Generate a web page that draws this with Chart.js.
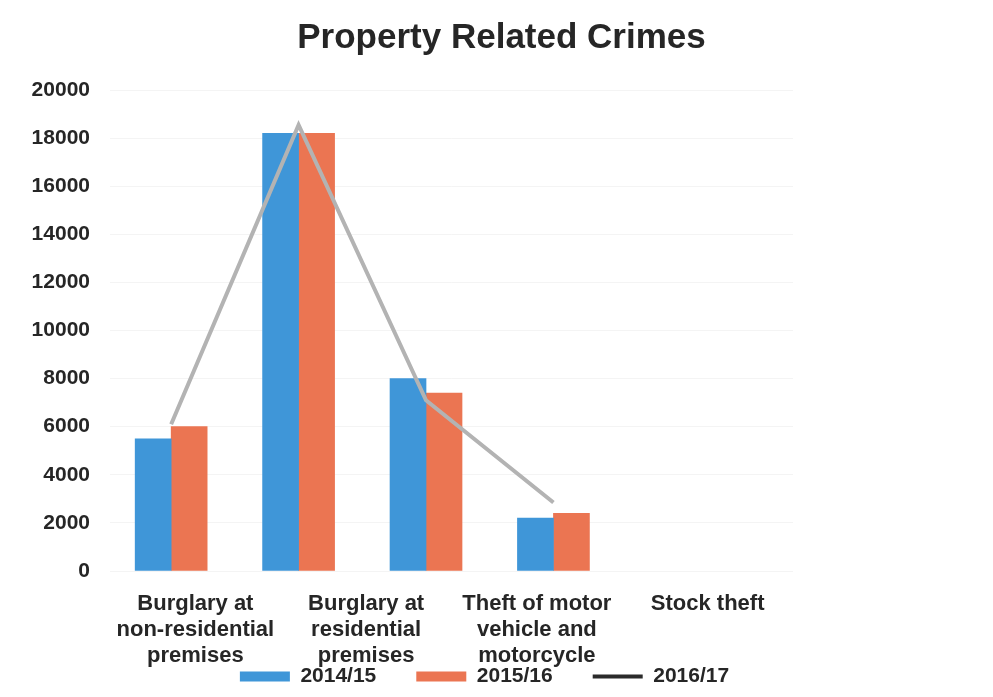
<!DOCTYPE html>
<html>
<head>
<meta charset="utf-8">
<title>Property Related Crimes</title>
<script src="https://cdn.jsdelivr.net/npm/chart.js@4.4.1/dist/chart.umd.min.js"></script>
<style>
    html, body { margin: 0; padding: 0; background: #ffffff; }
    #wrap { width: 993px; height: 697px; }
</style>
</head>
<body>
<div id="wrap"><canvas id="crimeChart"></canvas></div>
<script>
// Category labels (multi-line)
const categories = [
    ["Burglary at", "non-residential", "premises"],
    ["Burglary at", "residential", "premises"],
    ["Theft of motor", "vehicle and", "motorcycle"],
    ["Stock theft"]
];

const seriesNames = ["2014/15", "2015/16", "2016/17"];

const values1415 = [5500, 18200, 8000, 2200];
const values1516 = [6000, 18200, 7400, 2400];
const values1617 = [6100, 18550, 7100, 2850];

const yTicks = [0, 2000, 4000, 6000, 8000, 10000, 12000, 14000, 16000, 18000, 20000];

const blue = "#3f96d8";
const orange = "#eb7552";
const grey = "#b3b3b3";
const legendLine = "#2b2b2b";
const textColor = "#262626";

// bars + line sit on their own numeric axis, indexed by category
const toPoints = arr => arr.map((v, i) => ({ x: i, y: v }));

const bold = size => ({ family: "'Liberation Sans', Arial, sans-serif", size: size, weight: "bold" });

// the category labels run below the short axis box, and the legend sits a bit left of centre
const layoutTweaks = {
    id: "layoutTweaks",
    afterLayout(chart) {
        chart.scales.x.bottom = chart.height;
        chart.legend.left -= 17;
        chart.legend.right -= 17;
    }
};

new Chart(document.getElementById("crimeChart"), {
    data: {
        labels: categories,
        datasets: [
            { type: "bar", label: seriesNames[0], data: toPoints(values1415), backgroundColor: blue, xAxisID: "xb", yAxisID: "y", barThickness: 36, order: 1 },
            { type: "bar", label: seriesNames[1], data: toPoints(values1516), backgroundColor: orange, xAxisID: "xb", yAxisID: "y", barThickness: 36, order: 1 },
            { type: "line", label: seriesNames[2], data: toPoints(values1617), borderColor: grey, backgroundColor: grey,
              borderWidth: 4, pointRadius: 0, tension: 0, xAxisID: "xb", yAxisID: "y", order: -1 }
        ]
    },
    options: {
        responsive: true,
        maintainAspectRatio: false,
        animation: false,
        layout: { padding: { left: 10 } },
        plugins: {
            title: {
                display: true,
                text: "Property Related Crimes",
                color: textColor,
                font: bold(35),
                padding: { top: 17, bottom: 31 }
            },
            legend: {
                position: "bottom",
                labels: {
                    usePointStyle: true,
                    pointStyleWidth: 50,
                    boxHeight: 10,
                    padding: 40,
                    color: textColor,
                    font: bold(21),
                    generateLabels(chart) {
                        return chart.data.datasets.map((ds, i) => {
                            const isLine = ds.type === "line";
                            const c = isLine ? legendLine : ds.backgroundColor;
                            return {
                                text: ds.label,
                                datasetIndex: i,
                                fillStyle: c,
                                strokeStyle: c,
                                lineWidth: isLine ? 4 : 0,
                                pointStyle: isLine ? "line" : "rect",
                                fontColor: textColor,
                                hidden: !chart.isDatasetVisible(i)
                            };
                        });
                    }
                }
            },
            tooltip: { enabled: false }
        },
        scales: {
            x: {
                type: "category",
                position: "bottom",
                offset: true,
                grid: { display: false },
                border: { display: false },
                ticks: {
                    color: textColor,
                    font: { ...bold(22), lineHeight: 26 / 22 },
                    padding: 12,
                    maxRotation: 0,
                    autoSkip: false
                },
                afterFit: s => { s.height = 55; }
            },
            xb: {
                type: "linear",
                position: "bottom",
                display: false,
                bounds: "data",
                offset: false,
                min: -0.48,
                max: 4.88
            },
            y: {
                type: "linear",
                position: "left",
                min: 0,
                max: 20000,
                afterBuildTicks: s => { s.ticks = yTicks.map(v => ({ value: v })); },
                grid: { color: "rgba(0,0,0,0.045)", drawTicks: false },
                border: { display: false },
                ticks: { color: textColor, font: bold(21), padding: 20, callback: v => String(v) },
                afterFit: s => { s.width = 100; }
            },
            yr: {
                type: "linear",
                position: "right",
                grid: { display: false },
                border: { display: false },
                ticks: { display: false },
                afterFit: s => { s.width = 200; }
            }
        }
    },
    plugins: [layoutTweaks]
});
</script>
</body>
</html>
